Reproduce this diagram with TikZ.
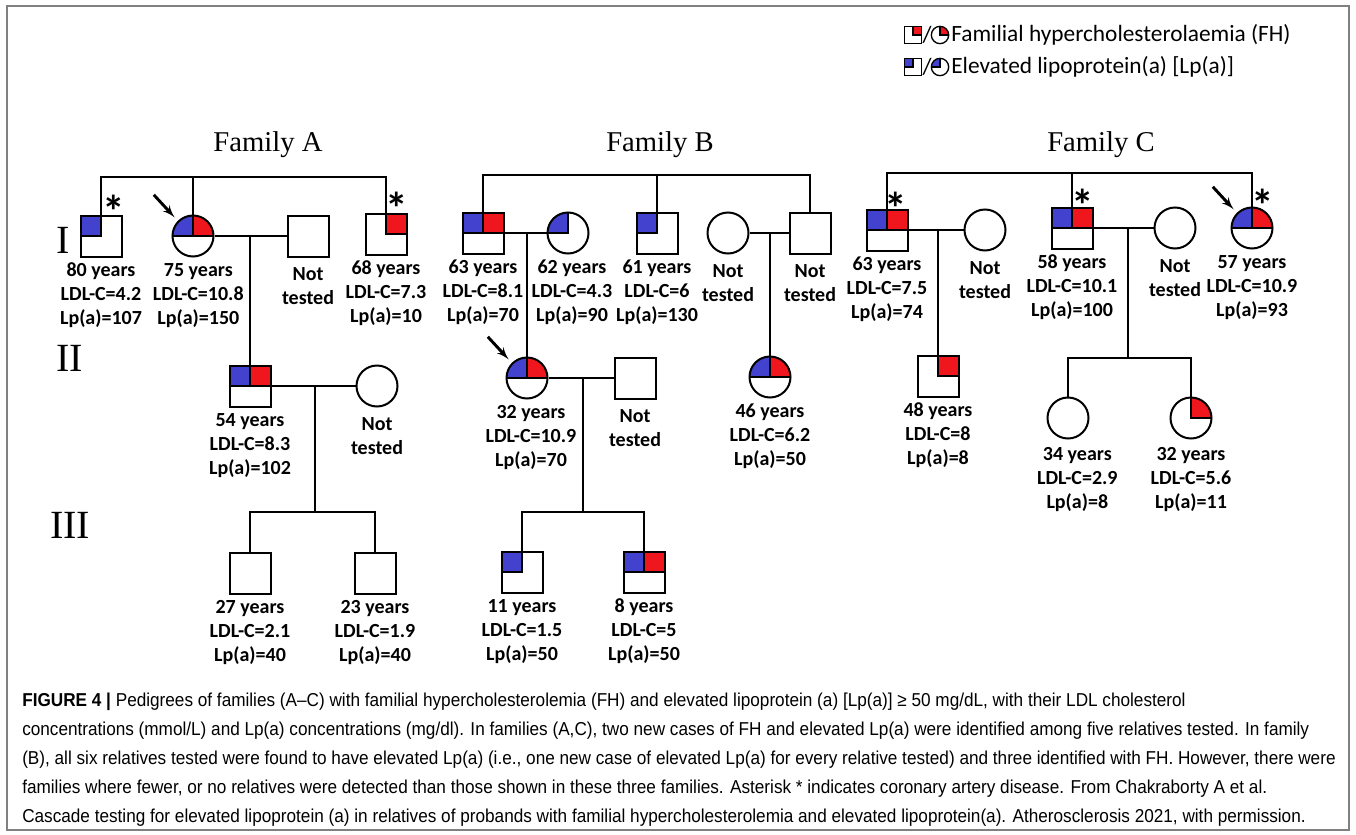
\documentclass[tikz,border=0pt]{standalone}
\usepackage{fontspec}
\setmainfont{Carlito}
\newfontfamily\famfont{Liberation Serif}
\newfontfamily\capfont[FakeStretch=0.92]{Liberation Sans}
\usetikzlibrary{arrows,positioning}

\begin{document}
\begin{tikzpicture}[>=latex', x=0.75pt, y=-0.75pt,
  link/.style={line width=1.5pt},
  male/.style={draw, rectangle, minimum size=30.75pt, inner sep=0pt, line width=1.5pt},
  female/.style={draw, circle, minimum size=30.75pt, inner sep=0pt, line width=1.5pt},
  fh/.style={path picture={
      \fill[fhred] (path picture bounding box.center) rectangle (path picture bounding box.north east);
      \draw (path picture bounding box.north) -- (path picture bounding box.center) -- (path picture bounding box.east);}},
  lpa/.style={path picture={
      \fill[lpablue] (path picture bounding box.center) rectangle (path picture bounding box.north west);
      \draw (path picture bounding box.north) -- (path picture bounding box.center) -- (path picture bounding box.west);}},
  both/.style={path picture={
      \fill[lpablue] (path picture bounding box.center) rectangle (path picture bounding box.north west);
      \fill[fhred] (path picture bounding box.center) rectangle (path picture bounding box.north east);
      \draw (path picture bounding box.north) -- (path picture bounding box.center)
            (path picture bounding box.west) -- (path picture bounding box.east);}},
  info/.style={align=center, inner sep=0pt, font=\fontsize{15}{18}\selectfont\bfseries},
  cad/.style={anchor=north, inner sep=0pt, font=\fontsize{34}{34}\selectfont\bfseries},
  proband/.style={->, line width=2.2pt, shorten >=3.5pt},
  famtitle/.style={font=\famfont\fontsize{21.5}{21.5}\selectfont},
  gen/.style={font=\famfont\fontsize{30}{30}\selectfont},
  keysym/.style={minimum size=13pt, line width=1pt},
  keytext/.style={anchor=west, inner sep=0pt, font=\fontsize{17.5}{17.5}\selectfont},
]

% Colours of the two traits
\definecolor{fhred}{RGB}{240, 22, 30}
\definecolor{lpablue}{RGB}{66, 66, 206}

\useasboundingbox (0,0) rectangle (1356,835);
\draw[gray, line width=0.8pt] (7,6) rectangle (1349,830);

% Key
\node[male, fh, keysym] (keyfhm) at (913,35) {};
\node[inner sep=0pt, font=\fontsize{17.5}{17.5}\selectfont] (keyfhs) at (927,35) {/};
\node[female, fh, keysym] (keyfhf) at (940,35) {};
\node[keytext] (keyfh) at (951,35) {Familial hypercholesterolaemia (FH)};
\node[male, lpa, keysym] (keylpm) at (913,67) {};
\node[inner sep=0pt, font=\fontsize{17.5}{17.5}\selectfont] (keylps) at (927,67) {/};
\node[female, lpa, keysym] (keylpf) at (940,67) {};
\node[keytext] (keylp) at (951,67) {Elevated lipoprotein(a) [Lp(a)]};

% Generations
\node[gen] (gen1) at (63,240) {I};
\node[gen] (gen2) at (70,358) {II};
\node[gen] (gen3) at (70,525) {III};

% FAMILY A
\node[famtitle] (famA) at (268,145) {Family A};

\node[male, lpa] (a1) at (101,236) {};
\node[female, both] (a2) at (193,236) {};
\node[male] (a3) at (308,236) {};
\node[male, fh] (a4) at (386,234) {};
\node[cad] (a1ast) at (114,195) {*};
\node[cad] (a4ast) at (397,192) {*};
\draw[proband] ([shift={(-24,-26)}]a2.135) -- (a2.135);

\coordinate (sibA) at (193,177);
\draw[link] (a1.north) |- (sibA) -| (a4.north);
\draw[link] (sibA) -- (a2.north);
\draw[link] (a2.east) -- (a3.west);

\node[info, below=4pt of a1] (a1txt) {80 years\\LDL-C=4.2\\Lp(a)=107};
\node[info, below=4pt of a2, xshift=4pt] (a2txt) {75 years\\LDL-C=10.8\\Lp(a)=150};
\node[info, below=7pt of a3] (a3txt) {Not\\tested};
\node[info, below=4pt of a4] (a4txt) {68 years\\LDL-C=7.3\\Lp(a)=10};

\node[male, both] (a5) at (250,386) {};
\node[female] (a6) at (377,386) {};
\coordinate (mA) at (250,236);
\draw[link] (mA) -- (a5.north);
\draw[link] (a5.east) -- (a6.west);
\node[info, below=4pt of a5] (a5txt) {54 years\\LDL-C=8.3\\Lp(a)=102};
\node[info, below=7pt of a6] (a6txt) {Not\\tested};

\node[male] (a7) at (250,573) {};
\node[male] (a8) at (375,573) {};
\coordinate (mA2) at (315,386);
\coordinate (sibA2) at (315,512);
\draw[link] (mA2) -- (sibA2);
\draw[link] (a7.north) |- (sibA2) -| (a8.north);
\node[info, below=4pt of a7] (a7txt) {27 years\\LDL-C=2.1\\Lp(a)=40};
\node[info, below=4pt of a8] (a8txt) {23 years\\LDL-C=1.9\\Lp(a)=40};

% FAMILY B
\node[famtitle] (famB) at (660,145) {Family B};

\node[male, both] (b1) at (483,233) {};
\node[female, lpa] (b2) at (568,233) {};
\node[male, lpa] (b3) at (657,233) {};
\node[female] (b5) at (728,233) {};
\node[male] (b6) at (810,233) {};

\coordinate (sibB) at (657,175);
\draw[link] (b1.north) |- (sibB) -| (b6.north);
\draw[link] (sibB) -- (b3.north);
\draw[link] (b1.east) -- (b2.west);
\draw[link] (b5.east) -- (b6.west);

\node[info, below=4pt of b1] (b1txt) {63 years\\LDL-C=8.1\\Lp(a)=70};
\node[info, below=4pt of b2, xshift=3pt] (b2txt) {62 years\\LDL-C=4.3\\Lp(a)=90};
\node[info, below=4pt of b3] (b3txt) {61 years\\LDL-C=6\\Lp(a)=130};
\node[info, below=7pt of b5] (b5txt) {Not\\tested};
\node[info, below=7pt of b6] (b6txt) {Not\\tested};

\node[female, both] (b4) at (527,378) {};
\node[male] (b10) at (635,378) {};
\node[female, both] (b7) at (770,377) {};
\coordinate (mB1) at (527,233);
\coordinate (mB2) at (770,233);
\draw[link] (mB1) -- (b4.north);
\draw[link] (mB2) -- (b7.north);
\draw[link] (b4.east) -- (b10.west);
\draw[proband] ([shift={(-24,-26)}]b4.135) -- (b4.135);
\node[info, below=4pt of b4, xshift=3pt] (b4txt) {32 years\\LDL-C=10.9\\Lp(a)=70};
\node[info, below=7pt of b10] (b10txt) {Not\\tested};
\node[info, below=4pt of b7] (b7txt) {46 years\\LDL-C=6.2\\Lp(a)=50};

\node[male, lpa] (b8) at (522,572) {};
\node[male, both] (b9) at (644,572) {};
\coordinate (mB3) at (583,378);
\coordinate (sibB2) at (583,512);
\draw[link] (mB3) -- (sibB2);
\draw[link] (b8.north) |- (sibB2) -| (b9.north);
\node[info, below=4pt of b8] (b8txt) {11 years\\LDL-C=1.5\\Lp(a)=50};
\node[info, below=4pt of b9] (b9txt) {8 years\\LDL-C=5\\Lp(a)=50};

% FAMILY C
\node[famtitle] (famC) at (1101,145) {Family C};

\node[male, both] (c1) at (887,230) {};
\node[female] (c2) at (985,230) {};
\node[male, both] (c3) at (1072,228) {};
\node[female] (c5) at (1175,228) {};
\node[female, both] (c6) at (1252,228) {};
\node[cad] (c1ast) at (896,192) {*};
\node[cad] (c3ast) at (1083,189) {*};
\node[cad] (c6ast) at (1263,189) {*};
\draw[proband] ([shift={(-24,-26)}]c6.135) -- (c6.135);

\coordinate (sibC) at (1072,173);
\draw[link] (c1.north) |- (sibC) -| (c6.north);
\draw[link] (sibC) -- (c3.north);
\draw[link] (c1.east) -- (c2.west);
\draw[link] (c3.east) -- (c5.west);

\node[info, below=4pt of c1] (c1txt) {63 years\\LDL-C=7.5\\Lp(a)=74};
\node[info, below=7pt of c2] (c2txt) {Not\\tested};
\node[info, below=4pt of c3] (c3txt) {58 years\\LDL-C=10.1\\Lp(a)=100};
\node[info, below=7pt of c5] (c5txt) {Not\\tested};
\node[info, below=4pt of c6] (c6txt) {57 years\\LDL-C=10.9\\Lp(a)=93};

\node[male, fh] (c4) at (938,376) {};
\coordinate (mC1) at (938,230);
\draw[link] (mC1) -- (c4.north);
\node[info, below=4pt of c4] (c4txt) {48 years\\LDL-C=8\\Lp(a)=8};

\node[female] (c7) at (1068,418) {};
\node[female, fh] (c8) at (1191,418) {};
\coordinate (mC2) at (1128,228);
\coordinate (sibC2) at (1128,358);
\draw[link] (mC2) -- (sibC2);
\draw[link] (c7.north) |- (sibC2) -| (c8.north);
\node[info, below=6pt of c7, xshift=7pt] (c7txt) {34 years\\LDL-C=2.9\\Lp(a)=8};
\node[info, below=6pt of c8] (c8txt) {32 years\\LDL-C=5.6\\Lp(a)=11};

% Caption
\node[anchor=north west, align=left, inner sep=0pt, font=\capfont\fontsize{14}{21.75}\selectfont] (caption) at (22,693)
  {\textbf{FIGURE 4 |} Pedigrees of families (A–C) with familial hypercholesterolemia (FH) and elevated lipoprotein (a) [Lp(a)] ≥ 50 mg/dL, with their LDL cholesterol\\
   concentrations (mmol/L) and Lp(a) concentrations (mg/dl). In families (A,C), two new cases of FH and elevated Lp(a) were identified among five relatives tested. In family\\
   (B), all six relatives tested were found to have elevated Lp(a) (i.e., one new case of elevated Lp(a) for every relative tested) and three identified with FH. However, there were\\
   families where fewer, or no relatives were detected than those shown in these three families. Asterisk * indicates coronary artery disease. From Chakraborty A et al.\\
   Cascade testing for elevated lipoprotein (a) in relatives of probands with familial hypercholesterolemia and elevated lipoprotein(a). Atherosclerosis 2021, with permission.};

\end{tikzpicture}
\end{document}
